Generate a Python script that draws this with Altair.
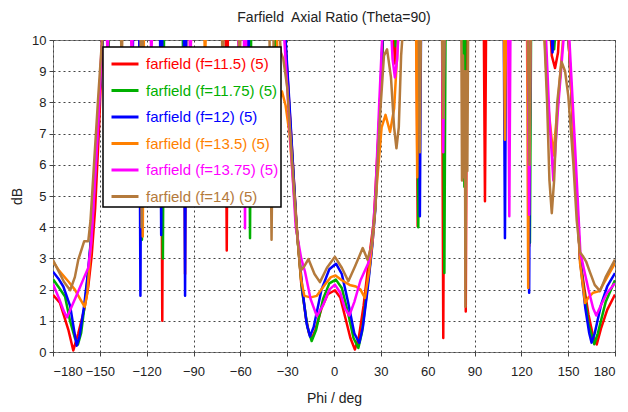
import altair as alt
import pandas as pd

T = 11  # values above the 10 dB limit (clipped at the top of the plot)

names = ["farfield (f=11.5) (5)", "farfield (f=11.75) (5)", "farfield (f=12) (5)",
         "farfield (f=13.5) (5)", "farfield (f=13.75) (5)", "farfield (f=14) (5)"]
colors = ["#ff0000", "#00b000", "#0000ff", "#ff8000", "#ff00ff", "#b47a3c"]

red_phi = [-180, -175.5, -170.2, -167, -163.8, -160, -157.4, -155.2, -153, -150.5, -148.3, -147.5,
           -145.8, -145, -144.2, -124.8, -124, -123.2, -110.8, -110, -109.2, -96.2, -95.4, -94.6,
           -69.5, -68.7, -67.9,
           -33.5, -31.2, -28, -24, -21, -18, -16, -14.3, -12, -8, -4, 0.6, 4, 7.5, 10.5, 13.4, 16, 19,
           22, 25.5, 28.5, 31, 32,
           37.5, 39, 40.5, 52.8, 53.6, 54.4, 69.2, 70, 70.8, 83.6, 84.4, 85.2, 95.9, 96.7, 97.5,
           124.2, 125, 125.8, 138, 139.5, 141.6, 143.5, 145,
           149.5, 150.3, 154, 157.6, 160.5, 163, 166, 168.3, 171, 175, 180]
red_val = [1.83, 1.57, 0.72, 0.05, 0.6, 1.36, 2.1, 3.1, 4.6, 7.2, 10, T,
           T, 9.4, T, T, 6.0, T, T, 1.0, T, T, 2.5, T,
           T, 3.25, T,
           T, 10, 7.4, 4.1, 2.2, 1.1, 0.6, 0.42, 0.7, 1.4, 1.85, 1.98, 1.75, 1.05, 0.45, 0.08, 0.5, 1.5,
           2.8, 4.2, 7.0, 9.6, T,
           T, 9.25, T, T, 4.03, T, T, 0.45, T, T, 1.3, T, T, 4.83, T,
           T, 3.4, T, T, 9.5, 9.1, 9.6, T,
           T, 10, 6.4, 3.0, 2.0, 1.2, 0.5, 0.24, 0.75, 1.35, 1.84]

green_phi = [-180, -176, -172.3, -169, -166, -164, -162, -159.5, -157.3, -155, -152, -148.3, -147.5,
             -145.5, -144.5, -143.5, -124, -123, -122.2, -110.5, -109.6, -108.8, -97, -96, -95.2,
             -54.6, -53.8, -53, -38.8, -38, -37.2,
             -33.5, -31.3, -28, -24, -20.5, -17, -14.3, -11.5, -7, -3, 1.2, 5, 9, 12.5, 15.6, 18, 21,
             24, 26.5, 29.5, 31.2, 32,
             38.5, 39.5, 40.5, 53.2, 54, 54.8, 69.9, 70.7, 71.5, 82.7, 83.5, 84.3, 124.7, 125.5, 126.3,
             139, 141, 143,
             149.5, 150.3, 154, 157.6, 160, 163, 166.7, 169, 174, 180]
green_val = [2.33, 2.05, 1.78, 0.98, 0.45, 0.24, 0.6, 1.6, 2.6, 4.0, 6.6, 10, T,
             T, 9.6, T, T, 3.6, T, T, 3.0, T, T, 5.5, T,
             T, 3.65, T, T, 9.3, T,
             T, 10, 7.3, 4.0, 2.0, 0.8, 0.35, 0.7, 1.7, 2.2, 2.32, 2.05, 1.25, 0.45, 0.13, 0.65, 1.9,
             3.2, 4.7, 8.0, 10, T,
             T, 9.8, T, T, 4.0, T, T, 2.53, T, T, 5.3, T, T, 3.5, T,
             T, 9.7, T,
             T, 10, 6.4, 3.0, 2.0, 0.9, 0.25, 0.6, 1.6, 2.3]

blue_phi = [-180, -176.5, -173.4, -169, -166.5, -164.8, -163, -160, -157.5, -155, -152, -148.3, -147.5,
            -129.8, -129, -128.2, -124.8, -124, -123.2, -111.5, -110.7, -109.9, -96.2, -95.4, -94.6,
            -56, -55.2, -54.4,
            -33.5, -31, -28, -24, -20, -17.5, -15.4, -13, -8, -3, 1.3, 5, 9, 13, 16.2, 18.5, 21.5,
            24.5, 26.5, 29.5, 31, 32,
            54.2, 55, 55.8, 108.7, 109.5, 110.3, 124.2, 125, 125.8, 138.5, 140, 141.5,
            149.5, 150.3, 154, 157.6, 161, 163.5, 165, 167, 171, 175, 180]
blue_val = [2.57, 2.35, 2.1, 1.47, 0.7, 0.2, 0.5, 1.5, 2.6, 4.0, 6.6, 10, T,
            T, 9.5, T, T, 1.8, T, T, 3.75, T, T, 1.8, T,
            T, 5.5, T,
            T, 10, 7.5, 4.0, 1.9, 0.9, 0.5, 0.8, 2.0, 2.65, 2.83, 2.5, 1.6, 0.6, 0.29, 0.8, 2.0,
            3.4, 4.6, 8.0, 10, T,
            T, 4.35, T, T, 3.65, T, T, 1.9, T, T, 9.6, T,
            T, 10, 6.4, 2.96, 1.4, 0.6, 0.3, 0.6, 1.5, 2.1, 2.53]

orange_phi = [-180, -176, -170, -166, -162, -159.7, -158, -156, -154, -151, -148.5, -147.5,
              -123.3, -122.5, -121.7, -92.8, -92, -91.2, -83.4, -82.6, -81.8,
              -37, -35.5, -33.3, -31, -28.5, -24, -21, -19, -15, -11, -6, -2, 1, 5, 10, 14, 17, 19.8,
              22.5, 25, 27.5, 30.5, 33, 35.9, 38.5, 41, 42,
              52.5, 53.3, 54.1, 108.7, 109.5, 110.3, 123.6, 124.4, 125.2,
              134, 137, 140.5, 143.5, 146, 147.5, 149.5,
              150.3, 154, 157.6, 159.5, 160.8, 163, 166, 170, 175, 180]
orange_val = [2.9, 2.6, 2.25, 2.0, 1.65, 1.45, 1.9, 3.2, 4.8, 7.6, 10, T,
              T, 3.7, T, T, 9.4, T, T, 9.2, T,
              T, 8.0, 8.35, 7.9, 7.0, 4.0, 2.3, 1.8, 1.75, 1.8, 2.15, 2.4, 2.45, 2.3, 2.15, 2.1, 2.0, 1.73,
              2.6, 3.7, 5.4, 7.2, 7.6, 7.05, 7.8, 10, T,
              T, 5.6, T, T, 6.8, T, T, 2.05, T,
              T, 8.0, 6.3, 8.0, 9.6, 10.5, T,
              10, 6.4, 2.85, 2.1, 1.57, 1.75, 1.9, 1.95, 2.4, 2.85]

magenta_phi = [-180, -176, -173, -171, -168.5, -163.8, -160, -157.4, -155.5, -154.2, -151, -148.7, -148,
               -145.8, -145, -144.2, -130.3, -129.5, -128.7, -117.8, -117, -116.2, -92.8, -92, -91.2,
               -61.8, -61, -60.2, -57.8, -57, -56.2,
               -34, -31.8, -28.5, -24.5, -21, -18.6, -15, -11, -7, -3, 0.6, 4, 7, 9.8, 13, 17, 22,
               24.5, 26.5, 29, 30.8, 31.5,
               36, 37.5, 39, 40.5, 42, 69.2, 70, 70.8, 111.5, 112.3, 113.1, 124, 125, 126,
               135, 138, 140.5, 143.5, 147, 148,
               149, 150.8, 154.5, 157.8, 159.7, 163, 166, 168, 171, 175, 180]
magenta_val = [2.18, 1.7, 1.3, 1.11, 1.4, 1.95, 2.4, 2.7, 3.5, 4.55, 7.3, 10, T,
               T, 9.3, T, T, 9.0, T, T, 9.4, T, T, 9.0, T,
               T, 9.2, T, T, 3.97, T,
               T, 10, 7.3, 4.0, 3.0, 2.58, 1.7, 1.15, 1.5, 2.0, 2.16, 1.9, 1.4, 1.17, 1.6, 2.3, 2.85,
               3.6, 5.0, 8.0, 10, T,
               T, 9.4, 8.8, 9.4, T, T, 6.4, T, T, 4.35, T, T, 4.4, T,
               T, 7.5, 5.5, 7.8, 10, T,
               T, 10, 6.5, 3.2, 2.75, 2.0, 1.4, 1.17, 1.5, 1.9, 2.2]

brown_phi = [-180, -177, -173, -169, -166, -163.8, -160, -157.4, -156, -154, -151, -148.6, -147.8,
             -136.8, -136, -135.2, -124, -123.2, -122.4, -72, -71.3, -70.5, -61.5, -60.5, -59.5,
             -41.5, -40, -38.5,
             -36, -34, -32.5, -30, -28, -24, -21.5, -19, -16.4, -12.5, -9, -4.5, 0.6, 5, 9.2, 13.5,
             18.4, 21.5, 24, 26.5, 29.5, 32, 34, 36.5, 38.5, 40, 41.5, 43, 44.4, 45,
             54.2, 55, 55.8, 69, 70, 71, 81.5, 82, 82.6, 83.2, 83.8, 84.2, 84.8, 85.4, 86,
             124, 125.2, 126.2,
             134, 136.5, 138, 139.5, 141, 143, 145.8, 148, 150.1, 153.3, 155.5, 157.6, 159.7, 161.5,
             164, 167, 170.4, 174, 180]
brown_val = [2.95, 2.65, 2.25, 1.98, 2.4, 2.96, 3.55, 3.55, 4.2, 5.8, 8.2, 10, T,
             T, 9.2, T, T, 4.0, T, T, 8.8, T, T, 9.0, T,
             T, 3.6, T,
             T, 9.6, 9.4, 8.5, 7.0, 4.0, 2.6, 2.75, 2.98, 2.5, 2.24, 2.7, 3.05, 2.7, 2.27, 2.75,
             3.33, 2.96, 3.4, 4.6, 7.6, 9.5, 9.7, 8.8, 7.2, 6.53, 7.2, 9.5, 10.5, T,
             T, 6.4, T, T, 7.5, T, T, 5.5, 9.5, 5.6, 9.0, 1.45, 9.0, 5.8, T,
             T, 6.0, T,
             T, 8.0, 5.5, 4.45, 5.5, 8.0, 9.3, 9.0, 8.2, 6.05, 4.2, 3.2, 3.05, 2.9,
             2.55, 2.15, 1.95, 2.4, 2.96]

x_ticks = [-180, -150, -120, -90, -60, -30, 0, 30, 60, 90, 120, 150, 180]
y_ticks = [0, 1, 2, 3, 4, 5, 6, 7, 8, 9, 10]

series = [
    (names[0], red_phi, red_val),
    (names[1], green_phi, green_val),
    (names[2], blue_phi, blue_val),
    (names[3], orange_phi, orange_val),
    (names[4], magenta_phi, magenta_val),
    (names[5], brown_phi, brown_val),
]
rows = []
for k, (nm, ph, vl) in enumerate(series):
    for p, v in zip(ph, vl):
        rows.append({"phi": p, "ar": v, "series": nm, "k": k})
df = pd.DataFrame(rows)

FONT = "Liberation Sans"

chart = alt.Chart(df).mark_line(strokeWidth=2.5, clip=True, strokeJoin="round").encode(
    x=alt.X("phi:Q",
            scale=alt.Scale(domain=[-180, 180], nice=False, zero=False),
            axis=alt.Axis(values=x_ticks, title="Phi / deg", format="d", labelFontSize=13,
                          labelPadding=9, titlePadding=13, titleFontSize=14)),
    y=alt.Y("ar:Q",
            scale=alt.Scale(domain=[0, 10], nice=False, zero=False),
            axis=alt.Axis(values=y_ticks, title="dB", labelFontSize=13, labelPadding=3,
                          titlePadding=7, titleFontSize=14)),
    color=alt.Color("series:N",
                    scale=alt.Scale(domain=names, range=colors),
                    legend=alt.Legend(orient="none", legendX=50, legendY=7, title=None,
                                      fillColor="white", strokeColor="black",
                                      padding=2,
                                      symbolType="stroke", symbolSize=729, symbolStrokeWidth=3,
                                      symbolOffset=5, labelFontSize=15, labelFont=FONT,
                                      labelLimit=400, labelOffset=6, rowPadding=3.5,
                                      labelColor=alt.ExprRef("scale('color', datum.value)"))),
    detail="series:N",
).properties(
    width=562,
    height=312,
    autosize=alt.AutoSizeParams(type="none"),
    padding={"left": 45, "top": 32, "right": 5, "bottom": 55},
    title=alt.TitleParams(text="Farfield\u00a0 Axial Ratio (Theta=90)", fontSize=14, font=FONT,
                          fontWeight="normal", color="#222222", anchor="middle", frame="group",
                          offset=9),
).configure_axis(
    labelFont=FONT, titleFont=FONT, labelColor="#222222", titleColor="#222222",
    titleFontWeight="normal", domain=False, tickColor="#444444", tickSize=4,
    grid=True, gridColor="#444444", gridDash=[2, 3], gridOpacity=1, gridWidth=1,
).configure_view(
    stroke="#808080", strokeWidth=1,
).configure_legend(
    strokeWidth=1.5,
)

chart.save("out.html", embed_options={"renderer": "svg", "actions": False})
